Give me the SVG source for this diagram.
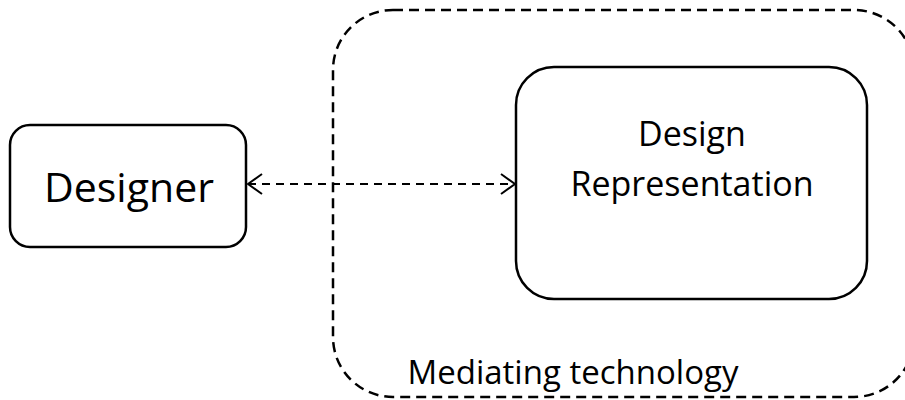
<svg xmlns="http://www.w3.org/2000/svg" width="905" height="400" viewBox="0 0 905 400">
  <style>
    .box { fill: #ffffff; stroke: #000000; stroke-width: 2.5; }
    .group { fill: none; stroke: #000000; stroke-width: 2.5; stroke-dasharray: 10 6; }
    .link { fill: none; stroke: #000000; stroke-width: 2; stroke-dasharray: 8 6; }
    .label { font-family: "Open Sans", "Noto Sans", sans-serif; fill: #000000; text-anchor: middle; }
  </style>
  <defs>
    <marker id="open-arrow" viewBox="0 0 16 22" refX="15" refY="11" markerWidth="16" markerHeight="22" markerUnits="userSpaceOnUse" orient="auto-start-reverse">
      <path d="M1,1 L15,11 L1,21" fill="none" stroke="#000000" stroke-width="2"/>
    </marker>
  </defs>
  <rect width="905" height="400" fill="#ffffff"/>

  <g id="mediating-technology">
    <rect class="group" x="333" y="10" width="581" height="387" rx="60" ry="60"/>
    <text class="label" x="573" y="384" font-size="33">Mediating technology</text>
  </g>

  <g id="designer">
    <rect class="box" x="10" y="125" width="236" height="122" rx="20" ry="20"/>
    <text class="label" x="129" y="202" font-size="41">Designer</text>
  </g>

  <g id="design-representation">
    <rect class="box" x="516" y="67" width="351" height="232" rx="38" ry="38"/>
    <text class="label" x="692" y="146" font-size="34">Design</text>
    <text class="label" x="692" y="196" font-size="34">Representation</text>
  </g>

  <g id="connectors">
    <line class="link" x1="248" y1="184" x2="515" y2="184" marker-start="url(#open-arrow)" marker-end="url(#open-arrow)"/>
  </g>
</svg>
